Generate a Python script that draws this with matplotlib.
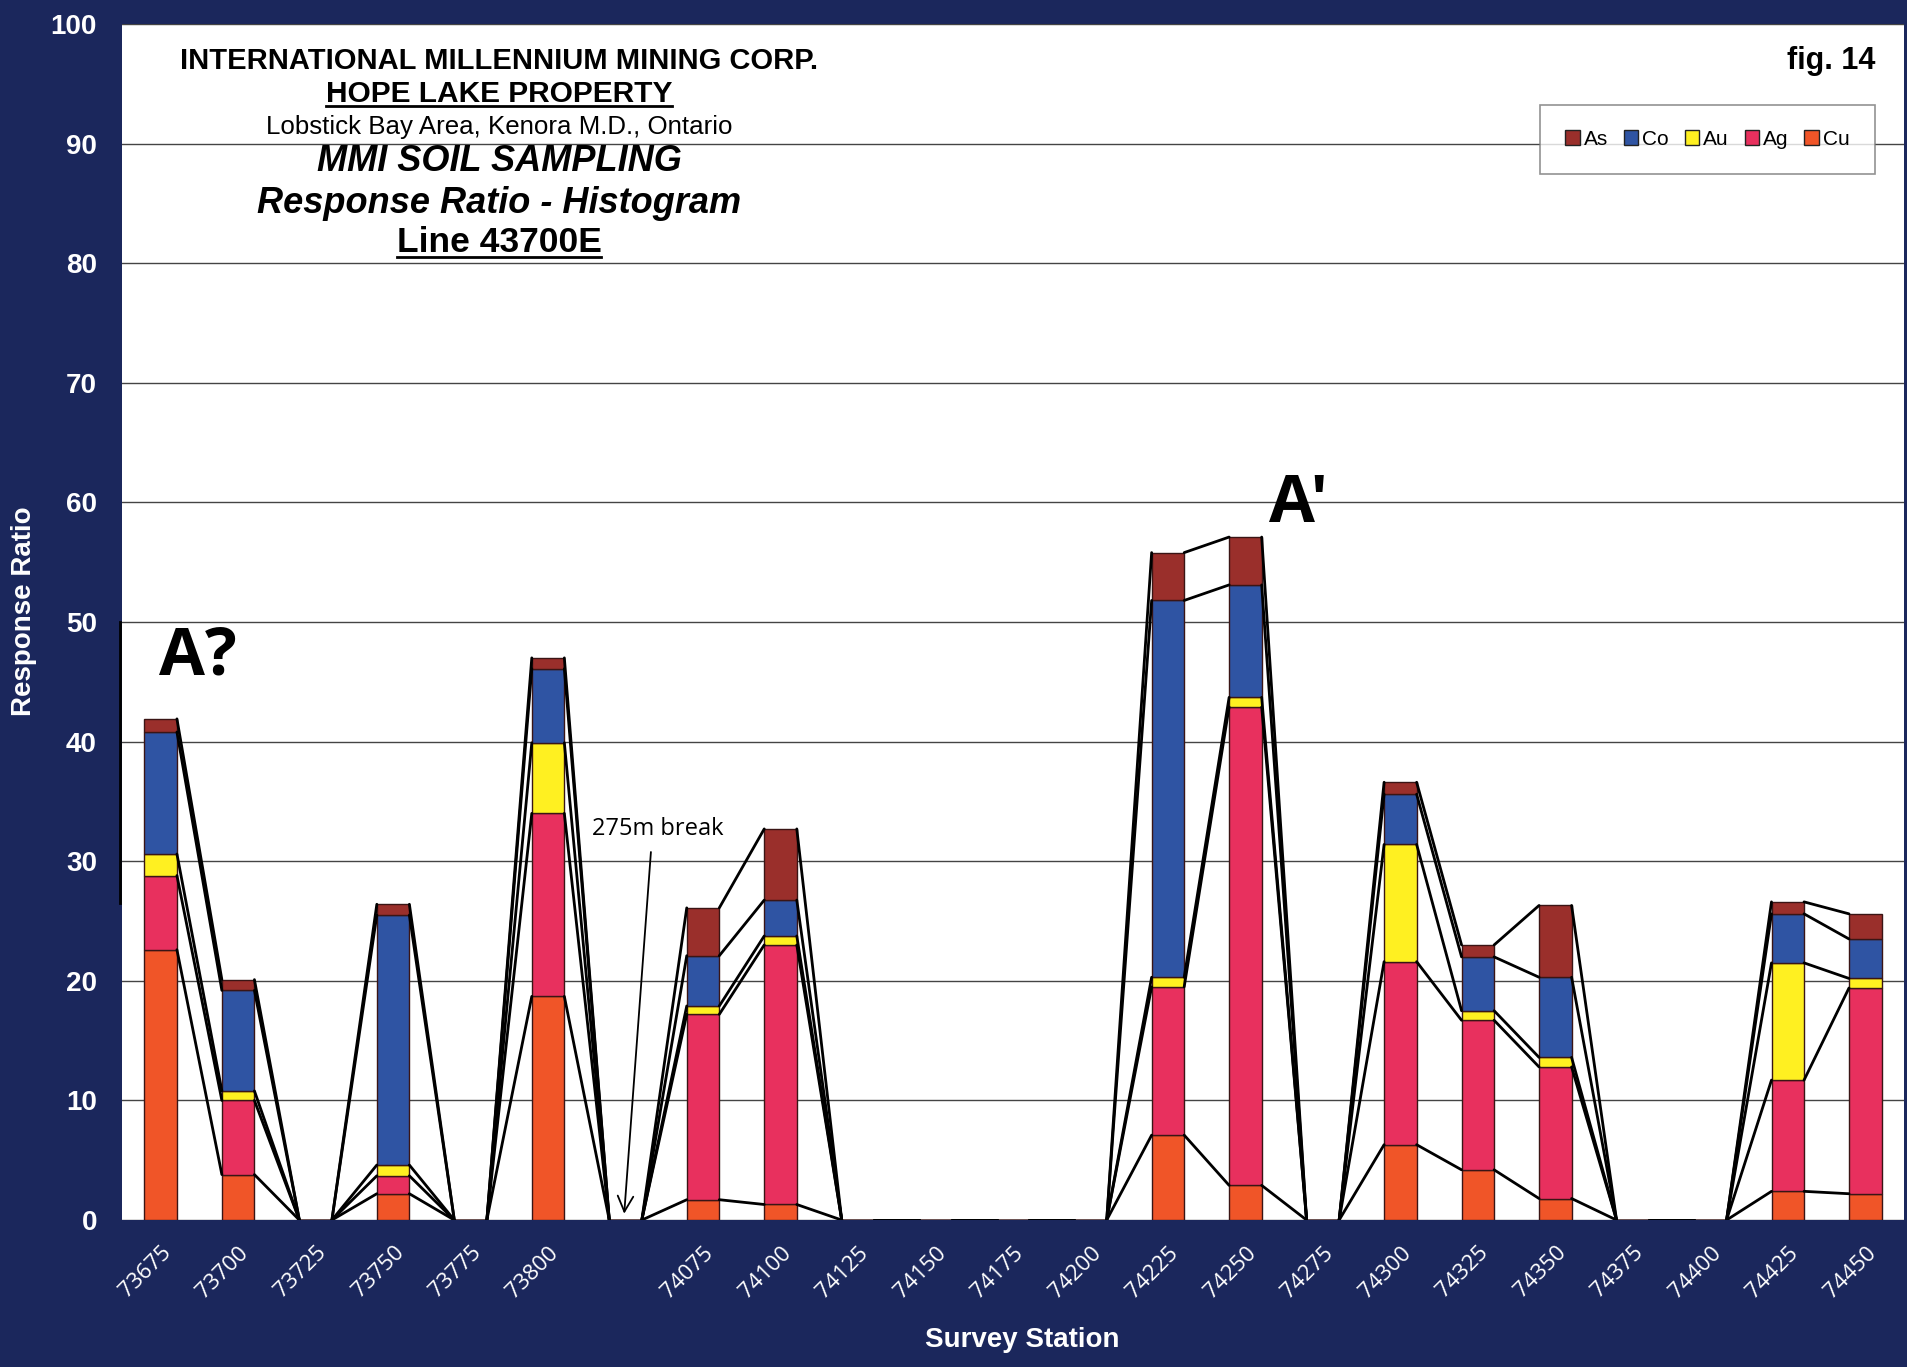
import matplotlib
matplotlib.use('agg')
import matplotlib.pyplot as plt
from matplotlib.lines import Line2D
from matplotlib.patches import Patch
import numpy as np

# survey stations along line 43700E (blank slot = 275m break)
stations = ['73675', '73700', '73725', '73750', '73775', '73800', '',
            '74075', '74100', '74125', '74150', '74175', '74200', '74225',
            '74250', '74275', '74300', '74325', '74350', '74375', '74400',
            '74425', '74450']

# response ratios, stacked bottom -> top: Cu, Ag, Au, Co, As
cu = [22.6, 3.8, 0, 2.2, 0, 18.7, 0, 1.7, 1.3, 0, 0, 0, 0, 7.1, 2.9, 0, 6.3, 4.2, 1.8, 0, 0, 2.4, 2.2]
ag = [6.2, 6.2, 0, 1.5, 0, 15.3, 0, 15.5, 21.7, 0, 0, 0, 0, 12.4, 40.0, 0, 15.3, 12.5, 11.0, 0, 0, 9.3, 17.2]
au = [1.8, 0.8, 0, 0.9, 0, 5.9, 0, 0.7, 0.75, 0, 0, 0, 0, 0.8, 0.8, 0, 9.8, 0.8, 0.8, 0, 0, 9.8, 0.8]
co = [10.2, 8.4, 0, 20.9, 0, 6.2, 0, 4.2, 3.0, 0, 0, 0, 0, 31.5, 9.4, 0, 4.2, 4.5, 6.7, 0, 0, 4.1, 3.3]
as_ = [1.1, 0.9, 0, 0.9, 0, 0.9, 0, 4.0, 5.95, 0, 0, 0, 0, 4.0, 4.0, 0, 1.0, 1.0, 6.0, 0, 0, 1.0, 2.1]

series = [('Cu', cu, '#f05528'), ('Ag', ag, '#e8305e'), ('Au', au, '#fff021'),
          ('Co', co, '#2f54a3'), ('As', as_, '#9a2f2b')]

navy = '#1b275c'
arial = 'Liberation Sans'
calibri = 'Open Sans'

fig = plt.figure(figsize=(19.08, 13.67), dpi=100)
fig.patch.set_facecolor(navy)
ax = fig.add_axes([0.0639, 0.1075, 0.934, 0.875])
ax.set_facecolor('white')

x = np.arange(len(stations))
w = 0.42
bottom = np.zeros(len(stations))
tops = []
for name, vals, col in series:
    vals = np.array(vals)
    ax.bar(x, vals, w, bottom=bottom, color=col, edgecolor='#3a1515', linewidth=1.0, zorder=3)
    bottom = bottom + vals
    tops.append(bottom.copy())

# excel style series lines between neighbouring stacks
for lev in tops:
    for i in range(len(stations) - 1):
        ax.plot([x[i] + w / 2, x[i + 1] - w / 2], [lev[i], lev[i + 1]],
                color='black', lw=2.0, zorder=4, solid_capstyle='round')

ax.set_xlim(-0.5, len(stations) - 0.5)
ax.set_ylim(0, 100)
ax.set_yticks(range(0, 101, 10))
ax.yaxis.grid(True, color='#444444', lw=1.0)
ax.set_axisbelow(True)
for s in ax.spines.values():
    s.set_visible(False)

ax.set_xticks(x)
ax.set_xticklabels(stations, rotation=45, ha='right', rotation_mode='anchor',
                   color='white', fontsize=16, family=calibri)
ax.tick_params(axis='x', length=0, pad=16)
ax.tick_params(axis='y', length=0, pad=18, labelcolor='white', labelsize=20)
for t in ax.get_yticklabels():
    t.set_fontfamily(arial)
    t.set_fontweight('bold')

fig.text(0.0126, 0.553, 'Response Ratio', rotation=90, color='white', fontsize=20,
         fontweight='bold', family=arial, ha='center', va='center')
fig.text(0.536, 0.0198, 'Survey Station', color='white', fontsize=20,
         fontweight='bold', family=arial, ha='center', va='center')

# title block
tx = 0.2116
t1 = ax.text(tx, 0.969, 'INTERNATIONAL MILLENNIUM MINING CORP.', transform=ax.transAxes,
             ha='center', va='center', fontsize=21, fontweight='bold', family=arial)
t2 = ax.text(tx, 0.941, 'HOPE LAKE PROPERTY', transform=ax.transAxes,
             ha='center', va='center', fontsize=21.5, fontweight='bold', family=arial)
ax.text(tx, 0.914, 'Lobstick Bay Area, Kenora M.D., Ontario', transform=ax.transAxes,
        ha='center', va='center', fontsize=18.6, family=arial)
ax.text(tx, 0.885, 'MMI SOIL SAMPLING', transform=ax.transAxes, ha='center', va='center',
        fontsize=26, fontweight='bold', style='italic', family=arial)
ax.text(tx, 0.850, 'Response Ratio - Histogram', transform=ax.transAxes, ha='center',
        va='center', fontsize=26, fontweight='bold', style='italic', family=arial)
t6 = ax.text(tx, 0.817, 'Line 43700E', transform=ax.transAxes, ha='center', va='center',
             fontsize=25.5, fontweight='bold', family=arial)
ax.text(0.984, 0.969, 'fig. 14', transform=ax.transAxes, ha='right', va='center',
        fontsize=22, fontweight='bold', family=arial)

# annotations
ax.text(0.48, 47.1, 'A?', ha='center', va='center', fontsize=48, fontweight='bold', family=calibri)
ax.text(14.68, 59.8, "A'", ha='center', va='center', fontsize=48, fontweight='bold', family=calibri)
ax.text(6.42, 32.7, '275m break', ha='center', va='center', fontsize=17, family=calibri)
ax.annotate('', xy=(5.98, 0.3), xytext=(6.33, 31.0),
            arrowprops=dict(arrowstyle='->', color='black', lw=1.3, mutation_scale=28), zorder=6)
ax.plot([-0.53, -0.53], [26.5, 50], color='black', lw=2, clip_on=False)

handles = [Patch(facecolor=c, edgecolor='#222222', label=n) for n, v, c in series[::-1]]
leg = ax.legend(handles=handles, loc='center', bbox_to_anchor=(0.8897, 0.9035), ncol=5,
                frameon=True, fancybox=False, edgecolor='#777777',
                handlelength=0.7, handleheight=0.7, handletextpad=0.2, columnspacing=0.75,
                borderpad=1.2, prop={'family': arial, 'size': 15})
leg.get_frame().set_linewidth(1.2)

# underline two of the title lines
fig.canvas.draw()
r = fig.canvas.get_renderer()
for t in (t2, t6):
    bb = t.get_window_extent(r)
    y = (bb.y0 + 2) / fig.bbox.height
    fig.add_artist(Line2D([bb.x0 / fig.bbox.width, bb.x1 / fig.bbox.width], [y, y],
                          transform=fig.transFigure, color='black', lw=2))

plt.savefig('out.png', dpi=100, facecolor=fig.get_facecolor())
plt.close()
